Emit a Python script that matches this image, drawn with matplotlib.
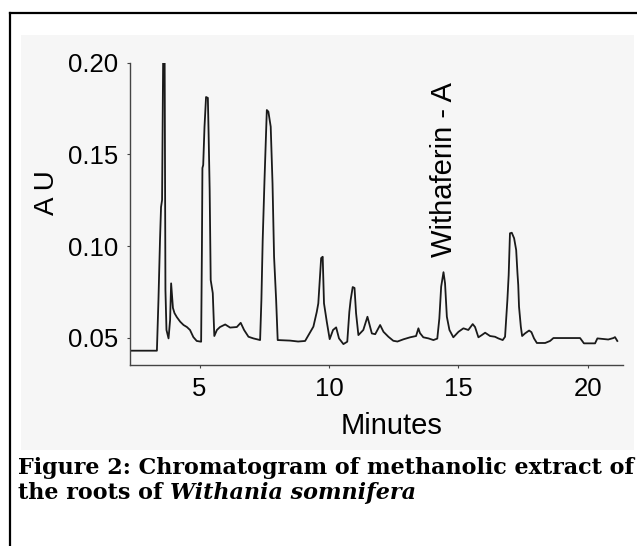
import numpy as np
from matplotlib import pyplot as plt
from matplotlib.patches import Rectangle
from matplotlib.lines import Line2D

# retention time (min) and detector response (AU)
minutes = [2.31, 3.35, 3.41, 3.47, 3.51, 3.55, 3.59, 3.65, 3.68, 3.72,
           3.80, 3.86, 3.90, 3.97, 4.03, 4.12, 4.25, 4.38, 4.51, 4.63,
           4.76, 4.89, 5.06, 5.09, 5.11, 5.14, 5.19, 5.25, 5.32, 5.35,
           5.39, 5.43, 5.51, 5.57, 5.67, 5.79, 5.99, 6.18, 6.44, 6.59,
           6.72, 6.89, 7.08, 7.34, 7.39, 7.44, 7.51, 7.60, 7.66, 7.75,
           7.82, 7.88, 7.96, 8.02, 8.50, 8.81, 9.08, 9.21, 9.40, 9.53,
           9.59, 9.70, 9.76, 9.81, 9.92, 10.03, 10.16, 10.28, 10.39, 10.56,
           10.71, 10.79, 10.84, 10.92, 10.99, 11.05, 11.14, 11.33, 11.49, 11.66,
           11.79, 11.98, 12.11, 12.30, 12.49, 12.65, 12.88, 13.14, 13.37, 13.46,
           13.52, 13.65, 13.85, 14.04, 14.19, 14.27, 14.34, 14.43, 14.49, 14.56,
           14.66, 14.81, 15.01, 15.20, 15.39, 15.56, 15.65, 15.78, 15.91, 16.04,
           16.23, 16.42, 16.55, 16.72, 16.81, 16.90, 16.95, 17.00, 17.07, 17.16,
           17.24, 17.29, 17.32, 17.35, 17.42, 17.47, 17.58, 17.74, 17.83, 17.93,
           18.04, 18.36, 18.55, 18.68, 19.20, 19.71, 19.86, 20.29, 20.38, 20.80,
           21.00, 21.06, 21.15]

absorbance = [0.0430, 0.0430, 0.0706, 0.1033, 0.1213, 0.1251, 0.1998, 0.1998, 0.0761, 0.0543,
              0.0497, 0.0597, 0.0797, 0.0663, 0.0635, 0.0613, 0.0588, 0.0570, 0.0559, 0.0543,
              0.0504, 0.0483, 0.0479, 0.0979, 0.1426, 0.1442, 0.1649, 0.1813, 0.1808, 0.1606,
              0.1306, 0.0815, 0.0744, 0.0510, 0.0543, 0.0559, 0.0573, 0.0556, 0.0559, 0.0582,
              0.0543, 0.0506, 0.0497, 0.0488, 0.0706, 0.1033, 0.1360, 0.1742, 0.1733, 0.1651,
              0.1342, 0.0942, 0.0706, 0.0488, 0.0485, 0.0480, 0.0483, 0.0515, 0.0561, 0.0641,
              0.0688, 0.0935, 0.0942, 0.0688, 0.0586, 0.0493, 0.0543, 0.0557, 0.0497, 0.0466,
              0.0479, 0.0642, 0.0706, 0.0777, 0.0772, 0.0634, 0.0515, 0.0543, 0.0615, 0.0524,
              0.0520, 0.0570, 0.0533, 0.0506, 0.0484, 0.0480, 0.0492, 0.0503, 0.0510, 0.0552,
              0.0526, 0.0503, 0.0497, 0.0488, 0.0496, 0.0606, 0.0779, 0.0858, 0.0797, 0.0615,
              0.0543, 0.0503, 0.0533, 0.0552, 0.0543, 0.0575, 0.0559, 0.0503, 0.0515, 0.0528,
              0.0510, 0.0506, 0.0497, 0.0488, 0.0506, 0.0706, 0.0842, 0.1070, 0.1073, 0.1043,
              0.0979, 0.0852, 0.0788, 0.0670, 0.0561, 0.0510, 0.0524, 0.0540, 0.0531, 0.0497,
              0.0472, 0.0472, 0.0483, 0.0499, 0.0499, 0.0499, 0.0470, 0.0470, 0.0497, 0.0491,
              0.0499, 0.0504, 0.0483]

x_ticks = [5, 10, 15, 20]
y_ticks = [0.05, 0.10, 0.15, 0.20]
y_tick_labels = ['0.05', '0.10', '0.15', '0.20']
peak_name = 'Withaferin - A'
peak_name_at = (14.45, 0.1415)
caption_1 = 'Figure 2: Chromatogram of methanolic extract of'
caption_2 = 'the roots of '
caption_species = 'Withania somnifera'

W, H = 637, 546
fig = plt.figure(figsize=(W / 100, H / 100), dpi=100)
fig.patch.set_facecolor('white')

# grey panel behind the chart
fig.add_artist(Rectangle((21 / W, 1 - 450 / H), 613 / W, 415 / H, transform=fig.transFigure,
                         facecolor='#f6f6f6', edgecolor='none', zorder=-2))
# box frame (cut at the right and bottom edge)
fig.add_artist(Line2D([10 / W, 1.0], [1 - 12.5 / H, 1 - 12.5 / H], transform=fig.transFigure,
                      color='black', lw=1.6, zorder=-1))
fig.add_artist(Line2D([10 / W, 10 / W], [0.0, 1 - 12.5 / H], transform=fig.transFigure,
                      color='black', lw=1.6, zorder=-1))

ax = fig.add_axes([130 / W, 1 - 365 / H, 493 / W, (365 - 62.7) / H])
ax.patch.set_alpha(0)
ax.plot(minutes, absorbance, color='#1a1a1a', lw=1.3)

ax.set_xlim(2.31, 21.37)
ax.set_ylim(0.0352, 0.20)
ax.set_xticks(x_ticks)
ax.set_yticks(y_ticks)
ax.set_yticklabels(y_tick_labels)

for s in ['top', 'right']:
    ax.spines[s].set_visible(False)
for s in ['left', 'bottom']:
    ax.spines[s].set_color('#444444')
    ax.spines[s].set_linewidth(1.0)

ax.tick_params(direction='out', length=2.5, width=0.8, color='#444444',
               labelsize=18.5, pad=6)
for lab in ax.get_xticklabels() + ax.get_yticklabels():
    lab.set_fontfamily('Liberation Sans')

ax.set_xlabel('Minutes', fontsize=21, fontfamily='Liberation Sans')
ax.xaxis.set_label_coords(0.53, -0.155)
fig.text(47 / W, 1 - 193 / H, 'A U', rotation=90, ha='center', va='center',
         fontsize=20, fontfamily='Liberation Sans')

ax.text(peak_name_at[0], peak_name_at[1], peak_name, rotation=90, ha='center', va='center',
        fontsize=21, fontfamily='Liberation Sans')

cap_font = dict(fontsize=16, fontweight='bold', fontfamily='DejaVu Serif')
fig.text(18 / W, 1 - 474 / H, caption_1, ha='left', va='baseline', **cap_font)
t2 = fig.text(18 / W, 1 - 499 / H, caption_2, ha='left', va='baseline', **cap_font)
ax.annotate(caption_species, xy=(1, 0), xycoords=t2, ha='left', va='bottom',
            fontstyle='italic', annotation_clip=False, **cap_font)

plt.savefig('out.png', dpi=100)
